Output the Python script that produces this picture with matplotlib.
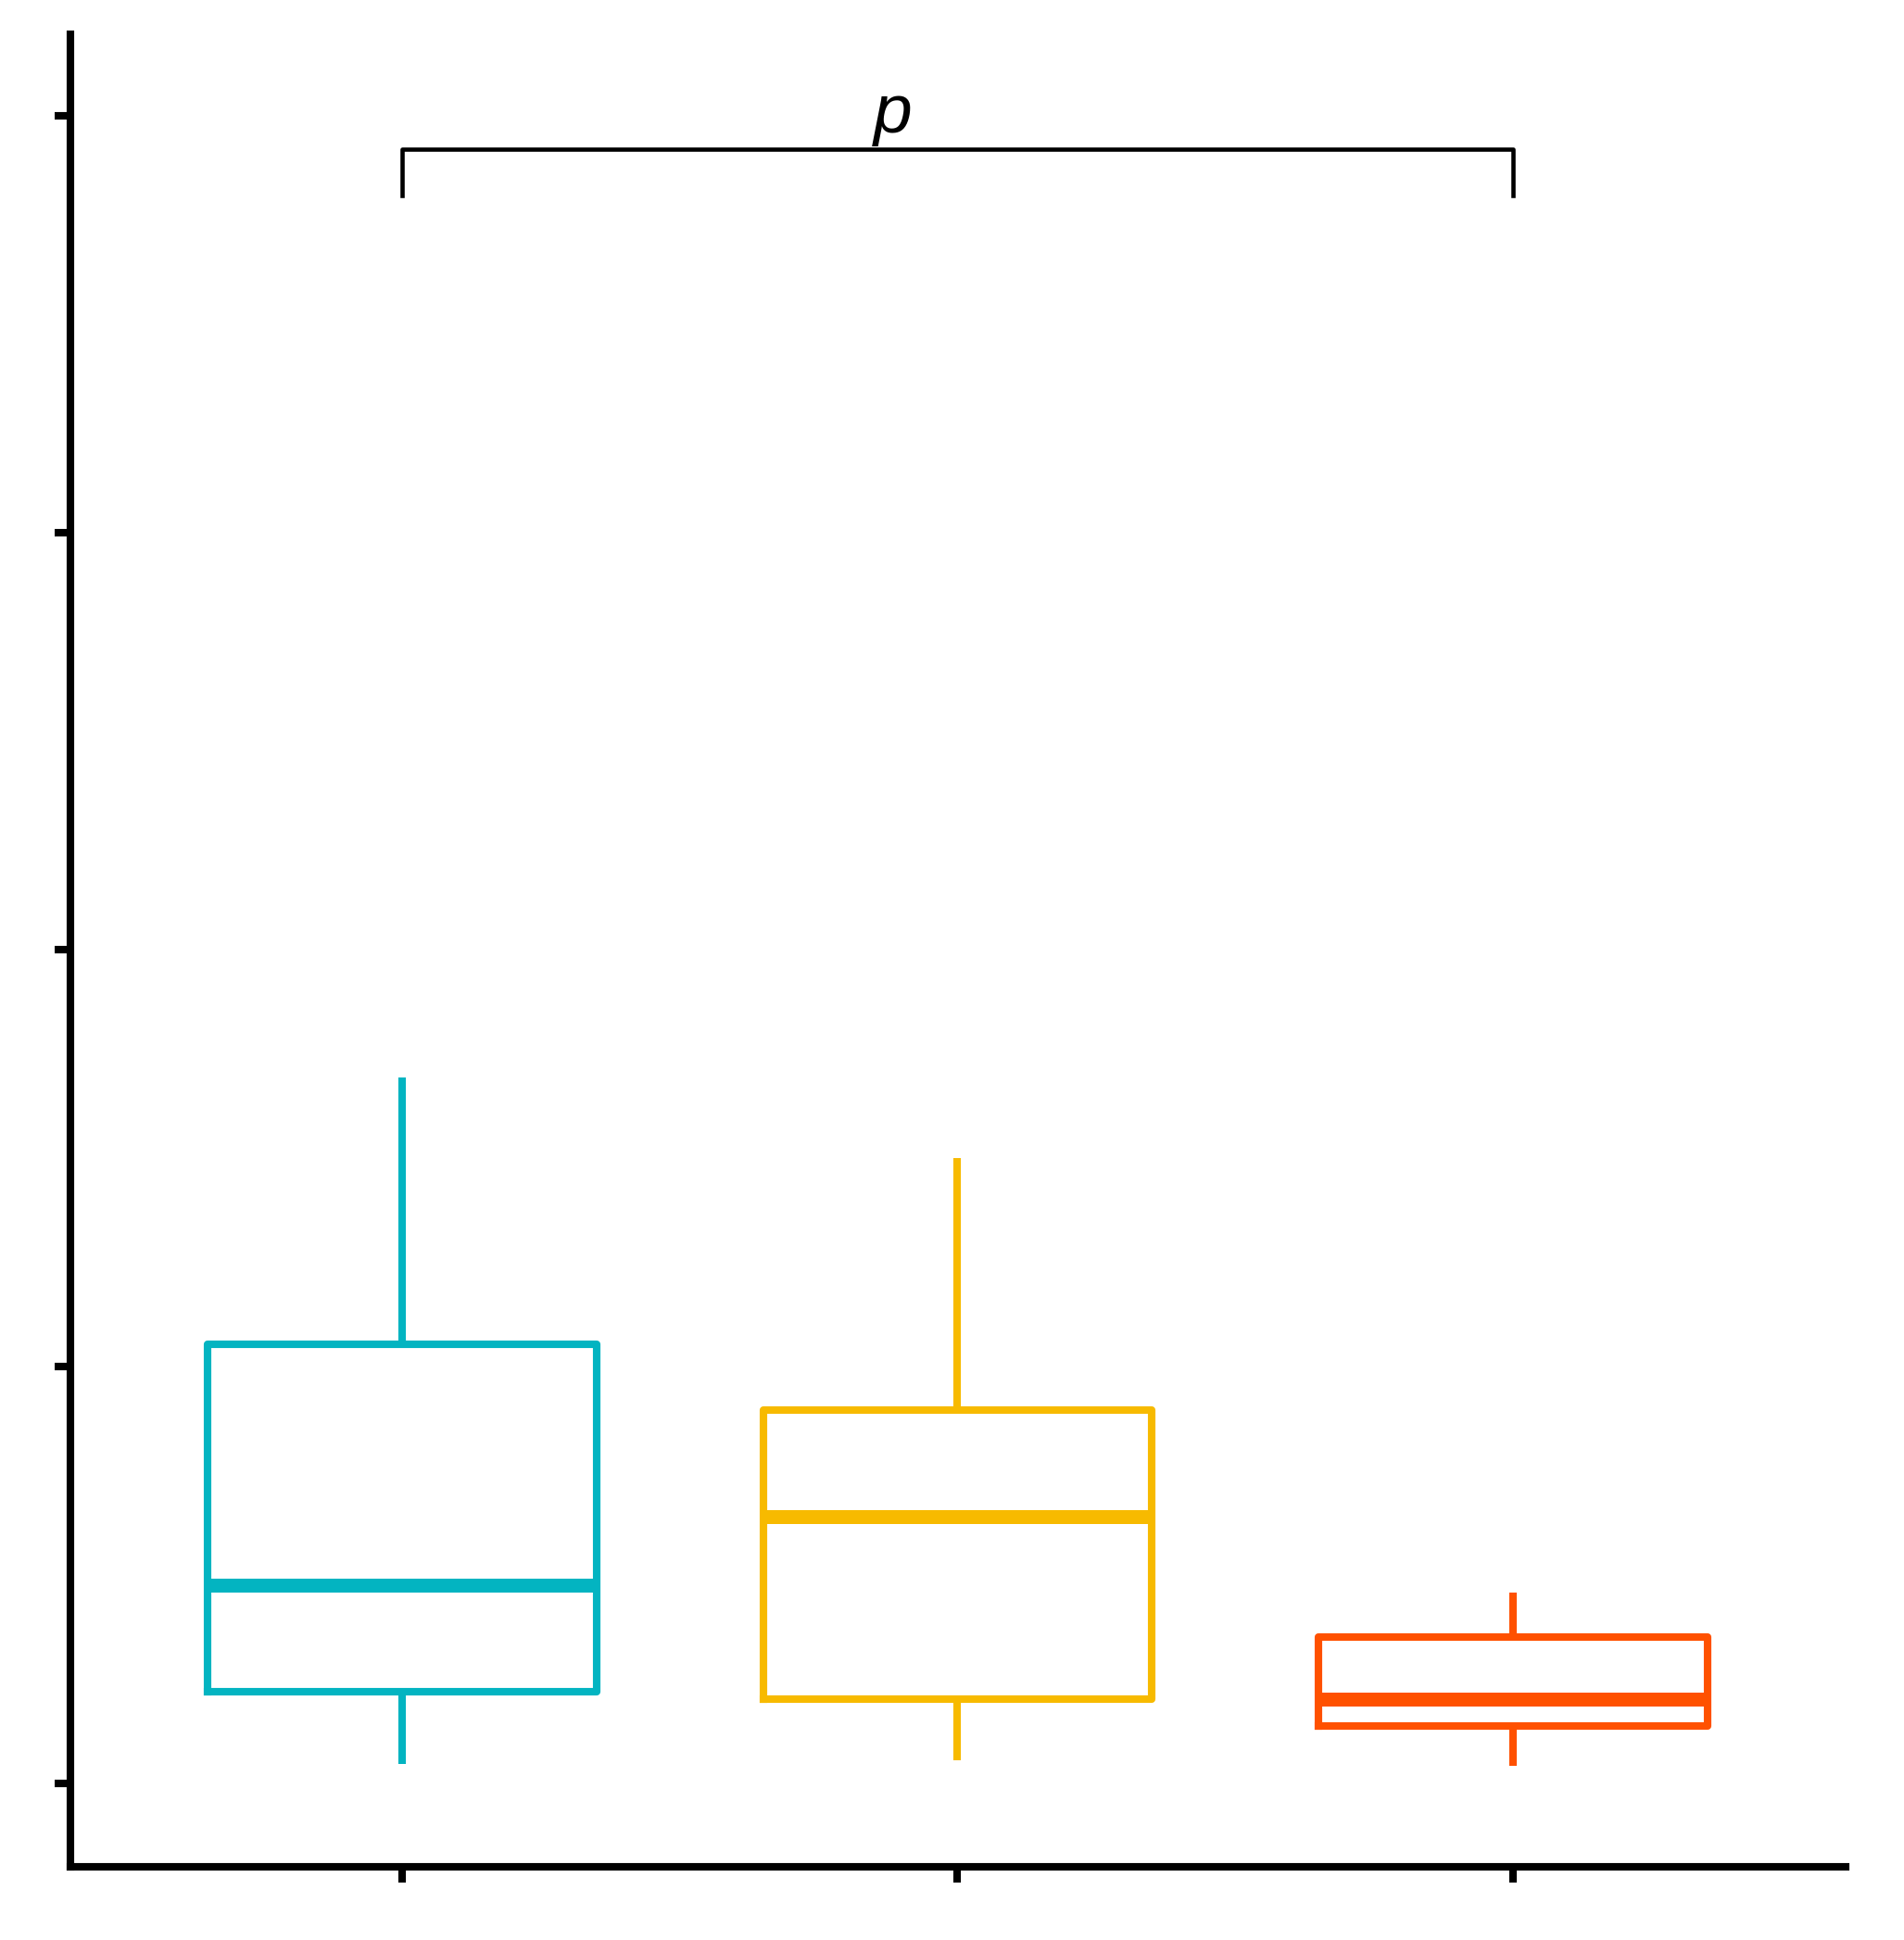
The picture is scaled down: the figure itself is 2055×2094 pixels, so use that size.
import matplotlib
matplotlib.use("Agg")
import matplotlib.pyplot as plt

# box statistics (y ticks taken as 0..4)
groups = ["A", "B", "C"]
whisker_low = [0.047, 0.056, 0.043]
q1 = [0.222, 0.204, 0.138]
median = [0.477, 0.641, 0.204]
q3 = [1.055, 0.896, 0.353]
whisker_high = [1.694, 1.501, 0.458]
colors = ["#03B4C1", "#F7BA00", "#FF5100"]

y_ticks = [0, 1, 2, 3, 4]
bracket_y = 3.92
bracket_leg = 3.81
p_label = "p"

stats = []
for i, g in enumerate(groups):
    stats.append({"label": g, "whislo": whisker_low[i], "q1": q1[i], "med": median[i],
                  "q3": q3[i], "whishi": whisker_high[i], "fliers": []})

fig = plt.figure(figsize=(2055 / 300, 2094 / 300), dpi=300)
ax = fig.add_axes([0.037, 0.0377, 0.9323, 0.9446])

lw = 1.95
bp = ax.bxp(stats, positions=[1, 2, 3], widths=0.7, showcaps=False,
            patch_artist=False, manage_ticks=False)
for i, c in enumerate(colors):
    bp["boxes"][i].set(color=c, linewidth=lw)
    bp["medians"][i].set(color=c, linewidth=3.6, solid_capstyle="butt")
    for w in bp["whiskers"][2 * i:2 * i + 2]:
        w.set(color=c, linewidth=lw, solid_capstyle="butt")

# significance bracket
ax.plot([1, 1, 3, 3], [bracket_leg, bracket_y, bracket_y, bracket_leg],
        color="black", linewidth=1.1)
ax.text(1.884, 3.96, p_label, ha="center", va="baseline", fontsize=18,
        style="italic", family="Liberation Sans")

ax.set_xlim(0.403, 3.599)
ax.set_ylim(-0.199, 4.196)
ax.set_xticks([1, 2, 3])
ax.set_yticks(y_ticks)
ax.set_xticklabels([])
ax.set_yticklabels([])
ax.tick_params(length=4.0, width=lw, color="black")
for s in ["top", "right"]:
    ax.spines[s].set_visible(False)
for s in ["left", "bottom"]:
    ax.spines[s].set_linewidth(lw)

fig.savefig("out.png", dpi=300)
